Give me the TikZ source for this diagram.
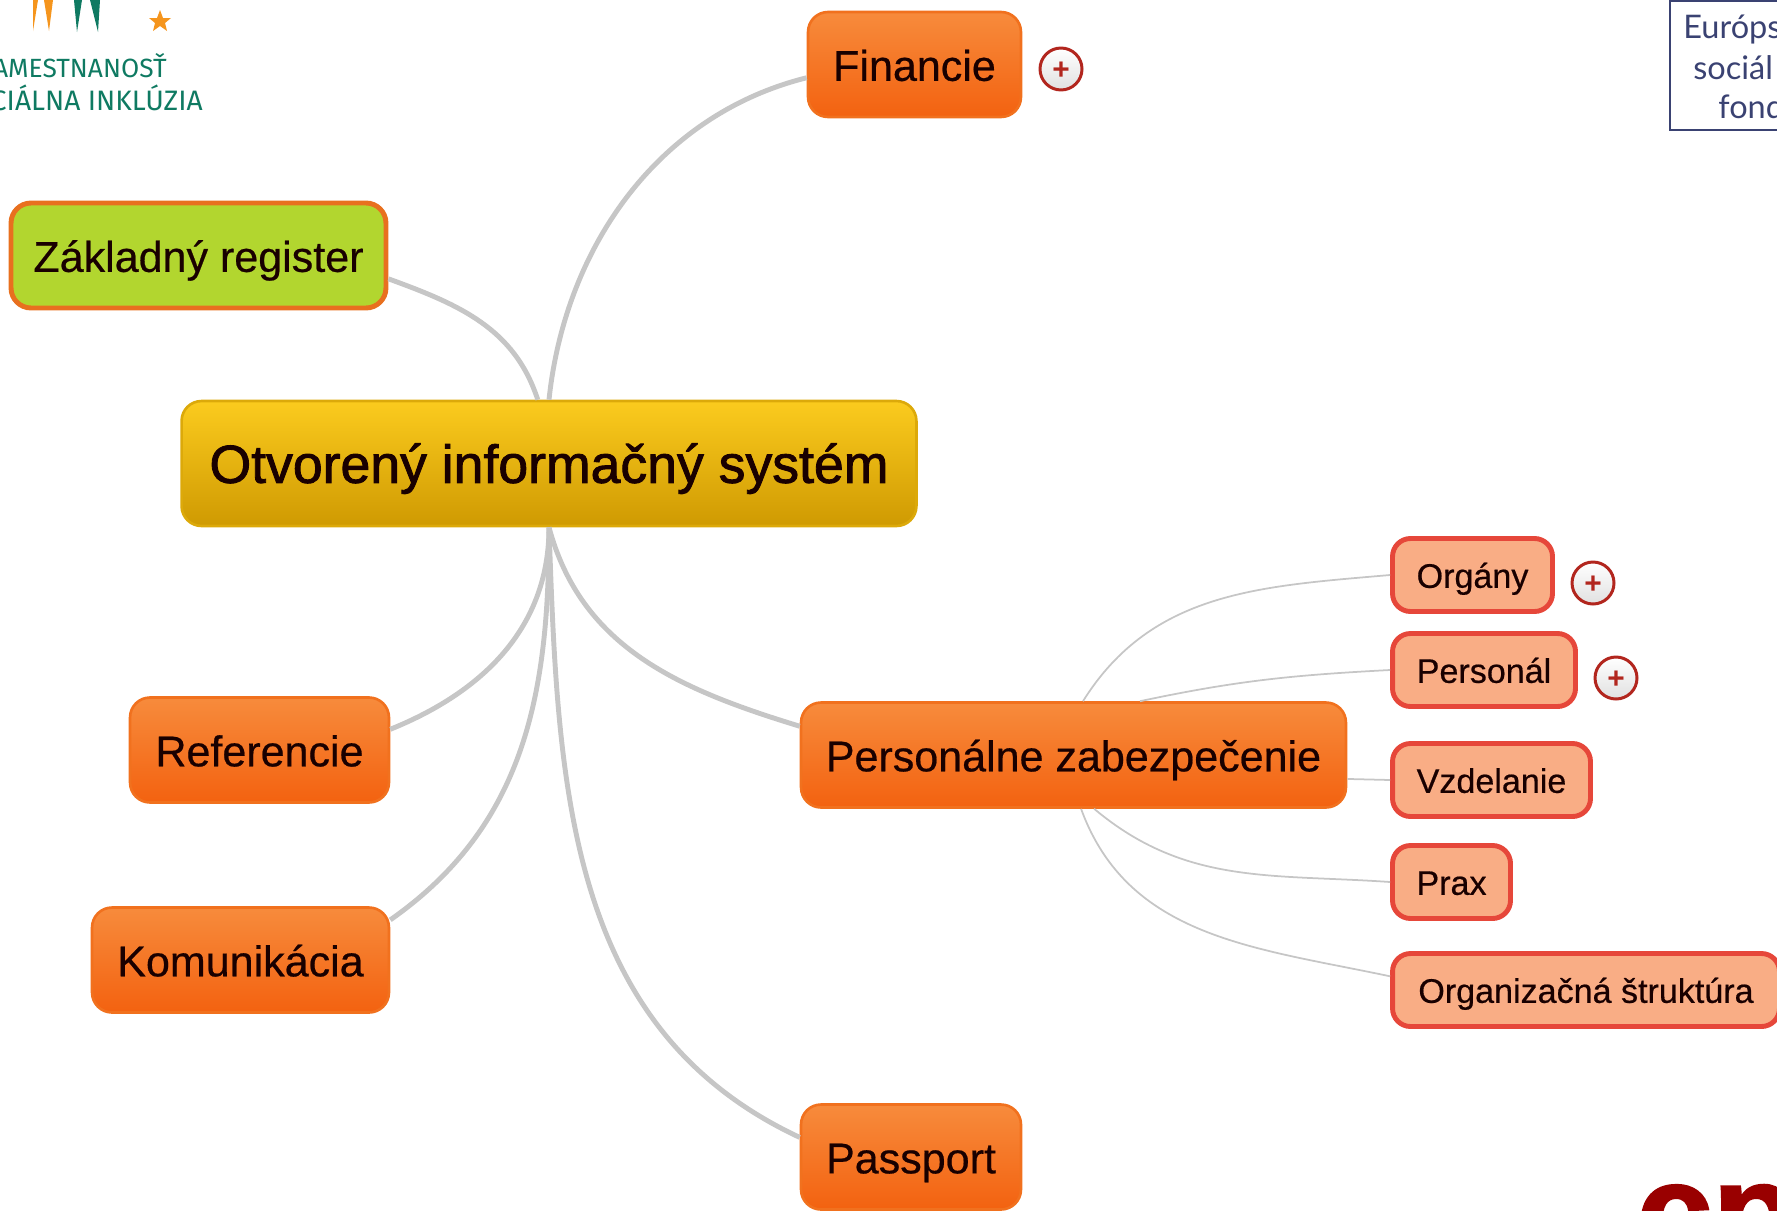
\documentclass[tikz,border=0pt]{standalone}
\usepackage{fontspec}
\setmainfont{Liberation Sans}
\newfontfamily\heavyfont[FakeBold=1.6]{Liberation Sans}
\newfontfamily\midfont[FakeBold=0.5]{Liberation Sans}
\newfontfamily\logofont{Fira Sans}
\newfontfamily\fondfont{Lato}
\definecolor{orangeTop}{HTML}{F78B3C}
\definecolor{orangeBot}{HTML}{F36210}
\definecolor{orangeLine}{HTML}{F1711E}
\definecolor{goldTop}{HTML}{FBCB1E}
\definecolor{goldBot}{HTML}{CF9A02}
\definecolor{limeFill}{HTML}{B2D62F}
\definecolor{limeLine}{HTML}{E8701F}
\definecolor{peachFill}{HTML}{F9AD85}
\definecolor{peachLine}{HTML}{E6473A}
\definecolor{branchGrey}{HTML}{C6C6C6}
\definecolor{plusRed}{HTML}{B2261E}
\definecolor{logoGreen}{HTML}{0F7A62}
\definecolor{logoOrange}{HTML}{F5951D}
\definecolor{fondBlue}{HTML}{3A4272}
\definecolor{cpRed}{HTML}{990000}
\begin{document}
\begin{tikzpicture}[x=0.02cm,y=-0.02cm]
\tikzstyle{topic}=[draw=orangeLine,line width=1.5pt,rounded corners=0.4cm,top color=orangeTop,
bottom color=orangeBot,text=black!90!red,font=\midfont\fontsize{24.5}{28}\selectfont,inner sep=0pt,
minimum height=2.1cm,text height=20.2pt,text depth=1.6pt]
\tikzstyle{sub}=[draw=peachLine,line width=2.8pt,rounded corners=0.36cm,fill=peachFill,
text=black!90!red,font=\midfont\fontsize{19.4}{23}\selectfont,inner sep=0pt,minimum height=1.46cm,
text height=16pt,text depth=1.4pt]
\tikzstyle{plus}=[draw=plusRed,line width=1.7pt,circle,top color=white,bottom color=black!12,
text=plusRed,font=\bfseries\fontsize{17}{17}\selectfont,inner sep=0pt,minimum size=0.84cm,
text height=12pt,text depth=0pt]
\tikzstyle{thick branch}=[draw=branchGrey,line width=2.8pt]
\tikzstyle{thin branch}=[draw=branchGrey,line width=1pt]
\tikzstyle{logo}=[text=logoGreen,inner sep=0pt,font=\logofont\fontsize{16}{16}\selectfont]
\tikzstyle{fond}=[text=fondBlue,inner sep=0pt,anchor=west,font=\fondfont\fontsize{18.5}{20}\selectfont]

\useasboundingbox (0,0) rectangle (1777,1210);
\clip (0,0) rectangle (1777,1210);

% logo, top left
\fill [logoOrange] (33,0) -- (38,0) -- (33,31) -- cycle;
\fill [logoOrange] (44,0) -- (53,0) -- (49,31) -- cycle;
\fill [logoGreen] (74,0) -- (82,0) -- (77,32) -- cycle;
\fill [logoGreen] (90,0) -- (100,0) -- (98,32) -- cycle;
\fill [logoOrange] (160,10) -- (163,18) -- (171,18) -- (165,23) -- (167,31) -- (160,26) -- (153,31) -- (155,23) -- (149,18) -- (157,18) -- cycle;
\draw (167,66) node (zam) [logo,anchor=east,font=\logofont\fontsize{15}{15}\selectfont] {AMESTNANOSŤ};
\draw (203,98) node (inkl) [logo,anchor=east] {CIÁLNA INKLÚZIA};

% fond, top right
\draw [fondBlue,line width=1pt] (1670,1) rectangle (1790,130);
\draw (1683,30) node (eur) [fond] {Európs};
\draw (1693,68) node (soc) [fond] {sociál};
\draw (1718,107) node (fon) [fond] {fond};

% red mark, bottom right
\draw (1636,1236) node (cp) [anchor=west,text=cpRed,inner sep=0pt,font=\heavyfont\fontsize{78}{78}\selectfont\bfseries] {cp};

\draw (914.5,64.5)  node (fin) [topic,minimum width=4.26cm] {Financie};
\draw (198.5,255.5)  node (zak) [topic,draw=limeLine,line width=2.8pt,fill=limeFill,top color=limeFill,bottom color=limeFill,minimum width=7.5cm] {Základný register};
\draw (549,463.5)  node (cen) [topic,draw=goldBot!70!goldTop,top color=goldTop,bottom color=goldBot,minimum width=14.7cm,minimum height=2.5cm,text height=23.6pt,font=\heavyfont\fontsize{30.5}{34}\selectfont] {Otvorený informačný systém};
\draw (259.5,750)  node (ref) [topic,minimum width=5.18cm] {Referencie};
\draw (240.5,960)  node (kom) [topic,minimum width=5.94cm] {Komunikácia};
\draw (1073.5,755)  node (per) [topic,minimum width=10.9cm] {Personálne zabezpečenie};
\draw (911,1157)  node (pas) [topic,minimum width=4.4cm] {Passport};

\draw (1472.5,575)  node (org) [sub,minimum width=3.2cm] {Orgány};
\draw (1484,670)  node (prs) [sub,minimum width=3.66cm] {Personál};
\draw (1491.5,780)  node (vzd) [sub,minimum width=3.96cm] {Vzdelanie};
\draw (1451.5,882)  node (pra) [sub,minimum width=2.36cm] {Prax};
\draw (1586,990)  node (stk) [sub,minimum width=7.74cm] {Organizačná štruktúra};

\draw (1061,69)  node (pfin) [plus] {+};
\draw (1593,583)  node (porg) [plus] {+};
\draw (1616,678)  node (pprs) [plus] {+};

\draw [thick branch] (cen.north) to [out = 84, in = 194, looseness = 0.95] (fin.187);
\draw [thick branch] (cen.100) to [out = 108, in = -20] (zak.-7);
\draw [thick branch] (cen.south) to [out = -90, in = 22] (ref.9);
\draw [thick branch] (cen.south) to [out = -90, in = 35] (kom.15);
\draw [thick branch] (cen.south) to [out = -75, in = 163] (per.174);
\draw [thick branch] (cen.south) to [out = -88, in = 155] (pas.170);

\draw [thin branch] (per.80) to [out = 58, in = 185] (org.west);
\draw [thin branch] (per.39) to [out = 12, in = 183] (prs.west);
\draw [thin branch] (per.-5) to (vzd.west);
\draw [thin branch] (per.-69) to [out = -40, in = 176] (pra.west);
\draw [thin branch] (per.-82) to [out = -70, in = 168] (stk.176);
\end{tikzpicture}
\end{document}
